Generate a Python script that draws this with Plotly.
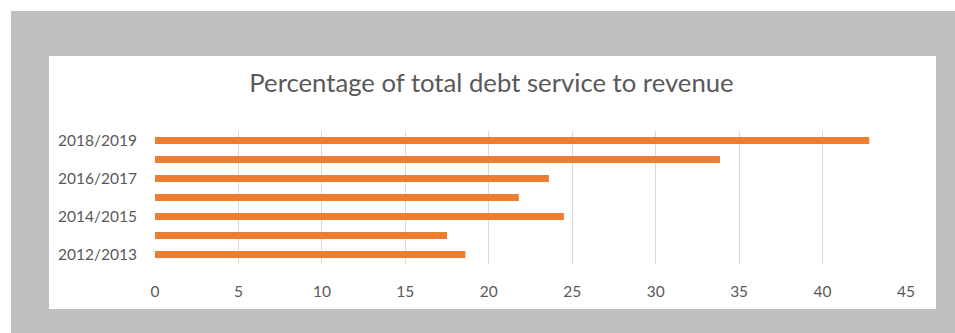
import plotly.graph_objects as go

years = ["2012/2013", "2013/2014", "2014/2015", "2015/2016", "2016/2017", "2017/2018", "2018/2019"]
ratio = [18.6, 17.5, 24.5, 21.8, 23.6, 33.85, 42.8]
y_tick_labels = ["2012/2013", "2014/2015", "2016/2017", "2018/2019"]
x_ticks = [0, 5, 10, 15, 20, 25, 30, 35, 40, 45]

W, H = 955, 333
L, R, T, B = 155, 49, 131, 69
pw, ph = W - L - R, H - T - B

def px_x(p):
    return (p - L) / pw

def px_y(p):
    return (H - B - p) / ph

fig = go.Figure(go.Bar(
    x=ratio, y=years, orientation="h",
    marker=dict(color="#ED7D31", line=dict(width=0)),
))

shapes = [
    dict(type="rect", xref="paper", yref="paper", layer="below",
         x0=px_x(0), x1=px_x(W), y0=px_y(0), y1=px_y(11),
         fillcolor="white", line=dict(width=0)),
    dict(type="rect", xref="paper", yref="paper", layer="below",
         x0=px_x(0), x1=px_x(11), y0=px_y(0), y1=px_y(H),
         fillcolor="white", line=dict(width=0)),
    dict(type="rect", xref="paper", yref="paper", layer="below",
         x0=px_x(49), x1=px_x(936), y0=px_y(56), y1=px_y(309),
         fillcolor="white", line=dict(width=0)),
]

fig.update_layout(
    width=W, height=H,
    margin=dict(l=L, r=R, t=T, b=B, pad=0),
    paper_bgcolor="#bfbfbf",
    plot_bgcolor="white",
    shapes=shapes,
    bargap=0.63,
    showlegend=False,
    title=dict(text="Percentage of total debt service to revenue",
               x=px_x(491.5), xref="paper", xanchor="center",
               y=1 - 83 / H, yanchor="middle",
               font=dict(family="Lato", size=25.7, color="#595959")),
    font=dict(family="Lato", color="#595959"),
)
fig.update_xaxes(
    range=[0, 45], tickvals=x_ticks, showgrid=True, gridcolor="#d9d9d9", gridwidth=1,
    zeroline=False, showline=False, ticks="", ticklabelstandoff=16,
    tickfont=dict(size=15.5, color="#595959"),
)
fig.update_yaxes(
    type="category", categoryorder="array", categoryarray=years,
    tickvals=y_tick_labels, showgrid=False, zeroline=False, showline=False, ticks="",
    ticklabelstandoff=17, tickfont=dict(size=15.5, color="#595959"),
)
fig.write_html("out.html")
